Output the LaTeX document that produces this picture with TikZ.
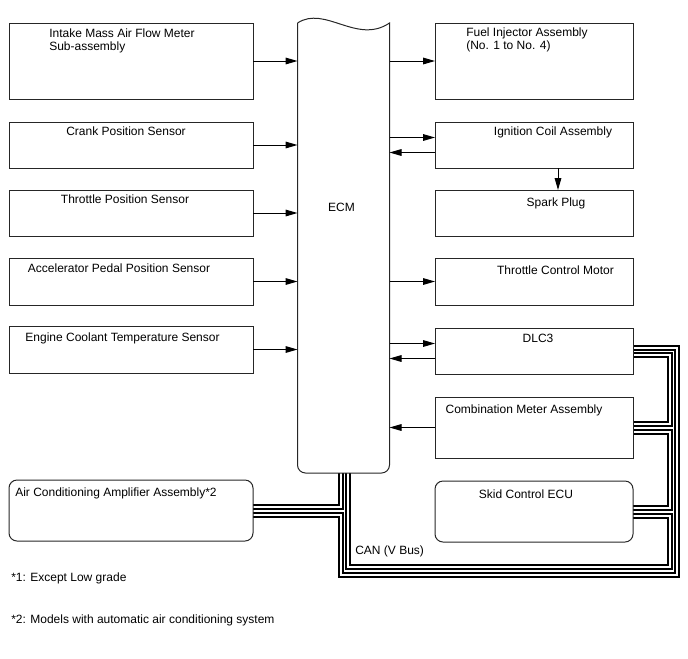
\documentclass[tikz,border=0pt]{standalone}
\usepackage{fontspec}
\setmainfont{Liberation Sans}
\usetikzlibrary{arrows.meta,positioning,calc,backgrounds}
\tikzset{
  sensorbox/.style={draw=black!85, line width=0.75pt, minimum width=183pt,
    inner sep=0pt, outer sep=0pt, anchor=north west},
  actbox/.style={sensorbox, minimum width=148.5pt},
  txt/.style={font=\fontsize{9}{9.8}\selectfont, inner sep=0pt, anchor=base},
  flow/.style={-{Triangle[length=9pt,width=5pt]}, line width=0.75pt},
  canwire/.style={line width=1.2pt, double=white, double distance=2.2pt},
  ecmline/.style={draw=black!85, line width=0.75pt}
}

\begin{document}
\begin{tikzpicture}[x=0.75pt,y=-0.75pt]
\useasboundingbox (0,0) rectangle (688,658);

% inputs
\node[sensorbox, minimum height=57pt] (maf) at (9,23) {};
\node[sensorbox, minimum height=34.5pt] (ckp) at (9,122) {};
\node[sensorbox, minimum height=34.5pt] (tps) at (9,190) {};
\node[sensorbox, minimum height=35.25pt] (app) at (9,258) {};
\node[sensorbox, minimum height=35.25pt] (ect) at (9,326) {};
\node[sensorbox, minimum height=45.75pt, rounded corners=6pt] (acamp) at (9,480) {};

% outputs
\node[actbox, minimum height=57pt] (inj) at (435,23) {};
\node[actbox, minimum height=34.5pt] (ign) at (435,122) {};
\node[actbox, minimum height=34.5pt] (spark) at (435,190) {};
\node[actbox, minimum height=35.25pt] (etcs) at (435,258) {};
\node[actbox, minimum height=34.5pt] (dlc) at (435,328) {};
\node[actbox, minimum height=45.75pt] (comb) at (435,397) {};
\node[actbox, minimum height=45.75pt, rounded corners=6pt] (skid) at (435,481) {};

% ECM
\node[minimum width=69pt, minimum height=337.5pt, inner sep=0pt, outer sep=0pt] (ecm) at (343.5,248) {};
\draw[ecmline] (ecm.north west)
  .. controls ($(ecm.north west)+(27.5,-18)$) and ($(ecm.north east)+(-32.5,22)$) .. (ecm.north east)
  [rounded corners=6pt] -- (ecm.south east) -- (ecm.south west) -- (ecm.north west);
\node[txt] (ecmT) at ($(ecm.center)+(-2,-36.5)$) {ECM};

% texts
\node[txt, anchor=north west, align=left] (mafT) at ($(maf.north west)+(40,5.1)$) {Intake Mass Air Flow Meter\\Sub-assembly};
\node[txt] (ckpT) at ($(ckp.north)+(-5,13.5)$) {Crank Position Sensor};
\node[txt] (tpsT) at ($(tps.north)+(-6,13.5)$) {Throttle Position Sensor};
\node[txt] (appT) at ($(app.north)+(-12,14.5)$) {Accelerator Pedal Position Sensor};
\node[txt] (ectT) at ($(ect.north)+(-8.5,15.5)$) {Engine Coolant Temperature Sensor};
\node[txt, anchor=base west] (acampT) at ($(acamp.north west)+(6,16.7)$) {Air Conditioning Amplifier Assembly*2};
\node[txt, anchor=north west, align=left] (injT) at ($(inj.north west)+(31,4.9)$) {Fuel Injector Assembly\\(No. 1 to No. 4)};
\node[txt] (ignT) at ($(ign.north)+(19,13.7)$) {Ignition Coil Assembly};
\node[txt] (sparkT) at ($(spark.north)+(22,16.7)$) {Spark Plug};
\node[txt] (etcsT) at ($(etcs.north)+(21.5,16.5)$) {Throttle Control Motor};
\node[txt] (dlcT) at ($(dlc.north)+(4,14)$) {DLC3};
\node[txt] (combT) at ($(comb.north)+(-10,16.3)$) {Combination Meter Assembly};
\node[txt] (skidT) at ($(skid.north)+(-8,17.5)$) {Skid Control ECU};

% signals
\draw[flow] (maf.east) -- (maf.east -| ecm.west);
\draw[flow] (ckp.east) -- (ckp.east -| ecm.west);
\draw[flow] (tps.east) -- (tps.east -| ecm.west);
\draw[flow] (app.east) -- (app.east -| ecm.west);
\draw[flow] (ect.east) -- (ect.east -| ecm.west);
\draw[flow] (ecm.east |- inj.west) -- (inj.west);
\draw[flow] ($(ecm.east |- ign.west)+(0,-7.5)$) -- ($(ign.west)+(0,-7.5)$);
\draw[flow] ($(ign.west)+(0,7.5)$) -- ($(ecm.east |- ign.west)+(0,7.5)$);
\draw[flow] ($(ign.south)+(24,0)$) -- ($(spark.north)+(24,0)$);
\draw[flow] (ecm.east |- etcs.west) -- (etcs.west);
\draw[flow] ($(ecm.east |- dlc.west)+(0,-7.5)$) -- ($(dlc.west)+(0,-7.5)$);
\draw[flow] ($(dlc.west)+(0,7.5)$) -- ($(ecm.east |- dlc.west)+(0,7.5)$);
\draw[flow] (comb.west) -- (comb.west -| ecm.east);

% CAN bus
\coordinate (aSW) at (341,575);
\coordinate (aSE) at (677,575);
\coordinate (bSE) at (670,567);
\begin{scope}[on background layer]
\draw[canwire] ($(ecm.south)+(-2.5,0)$) |- ($(acamp.east)+(0,-3.5)$);
\draw[canwire] ($(acamp.east)+(0,4.5)$) -| (aSW) -- (aSE) |- ($(dlc.east)+(0,-3)$);
\draw[canwire] ($(ecm.south)+(4.5,0)$) |- (bSE) |- ($(skid.east)+(0,4.5)$);
\draw[canwire] ($(skid.east)+(0,-3.5)$) -| ($(bSE |- comb.east)+(0,4.5)$) -- ($(comb.east)+(0,4.5)$);
\draw[canwire] ($(comb.east)+(0,-3.5)$) -| ($(bSE |- dlc.east)+(0,4)$) -- ($(dlc.east)+(0,4)$);
\end{scope}
\node[txt, anchor=base west] (canT) at (355,554) {CAN (V Bus)};

% notes
\node[txt, anchor=base west] (note1) at (11,581.7) {*1: Except Low grade};
\node[txt, anchor=base west] (note2) at (11,623.3) {*2: Models with automatic air conditioning system};
\end{tikzpicture}
\end{document}
